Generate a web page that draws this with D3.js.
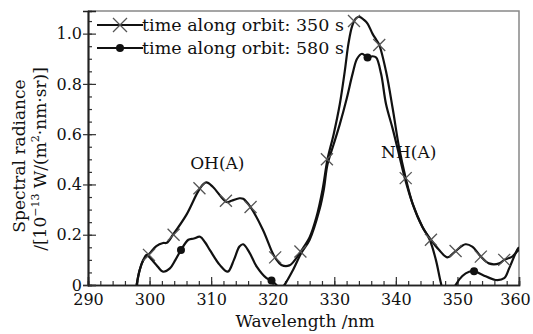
<!DOCTYPE html>
<html>
<head>
<meta charset="utf-8">
<script src="https://cdn.jsdelivr.net/npm/d3@7"></script>
<style>
  body { margin: 0; background: #fff; }
  svg text { font-family: "DejaVu Serif", serif; fill: #111; }
</style>
</head>
<body>
<div class="chart"></div>
<script>
// wavelength (nm) / spectral radiance
const wl350 = [297.9, 298.4, 299.0, 300.0, 301.1, 302.2, 302.8, 303.8, 306.0, 308.2, 309.2, 310.3,
  312.5, 313.3, 314.6, 315.2, 316.4, 318.4, 320.0, 320.5, 321.4, 322.7, 323.8, 324.6, 326.0, 327.1,
  328.1, 328.9, 329.9, 330.9, 331.7, 332.3, 332.9, 333.5, 334.1, 334.8, 335.4, 336.2, 336.8, 337.3,
  338.4, 339.5, 340.5, 341.6, 342.7, 344.3, 345.7, 347.0, 348.4, 349.7, 351.3, 352.4, 353.8, 355.1,
  356.8, 357.6, 358.9, 359.7, 360.0];
const val350 = [0, 0.06, 0.10, 0.125, 0.155, 0.167, 0.168, 0.20, 0.28, 0.385, 0.408, 0.39,
  0.33, 0.335, 0.345, 0.343, 0.31, 0.22, 0.126, 0.105, 0.08, 0.078, 0.106, 0.135, 0.19, 0.27,
  0.38, 0.50, 0.60, 0.72, 0.85, 0.96, 1.03, 1.06, 1.067, 1.055, 1.04, 1.00, 0.976, 0.955,
  0.85, 0.70, 0.55, 0.425, 0.325, 0.232, 0.18, 0.14, 0.11, 0.135, 0.162, 0.153, 0.113, 0.086,
  0.086, 0.10, 0.113, 0.133, 0.14];

const wl580 = [297.9, 298.4, 299.0, 299.5, 300.2, 301.1, 302.2, 303.3, 304.2, 305.1, 306.3, 307.2,
  308.2, 309.0, 309.8, 311.4, 312.7, 313.7, 314.6, 315.2, 316.2, 317.4, 319.0, 319.8, 320.6, 321.2,
  321.9, 323.3, 324.6, 326.0, 327.6, 328.3, 328.9, 329.9, 330.9, 332.0, 333.0, 333.7, 334.5, 335.4,
  336.2, 336.8, 337.6, 338.4, 339.5, 340.6, 341.4, 342.7, 344.3, 345.5, 346.5, 347.3, 347.8, 349.2,
  349.7, 350.8, 351.9, 352.7, 354.1, 356.2, 357.6, 358.4, 359.2, 359.7, 360.0];
const val580 = [0, 0.06, 0.10, 0.12, 0.105, 0.08, 0.053, 0.066, 0.10, 0.139, 0.18, 0.185,
  0.192, 0.17, 0.139, 0.08, 0.053, 0.10, 0.153, 0.162, 0.13, 0.073, 0.027, 0.018, 0, -0.02,
  0, 0.06, 0.125, 0.18, 0.30, 0.38, 0.48, 0.56, 0.64, 0.74, 0.843, 0.90, 0.92, 0.905,
  0.91, 0.905, 0.84, 0.72, 0.62, 0.51, 0.43, 0.325, 0.232, 0.18, 0.10, 0.01, -0.03, -0.03,
  0, 0.036, 0.053, 0.055, 0.04, 0.02, 0.027, 0.066, 0.113, 0.14, 0.15];

// marker positions
const crossWl = [299.9, 303.9, 308.1, 312.4, 316.4, 320.4, 324.5, 328.8, 333.2, 337.3, 341.6, 345.7, 349.7, 353.8, 357.6];
const crossVal = [0.12, 0.20, 0.385, 0.335, 0.31, 0.11, 0.133, 0.50, 1.05, 0.955, 0.425, 0.18, 0.135, 0.113, 0.10];
const dotWl = [305.1, 319.8, 335.4, 352.7];
const dotVal = [0.139, 0.018, 0.905, 0.055];

const seriesNames = ["time along orbit: 350 s", "time along orbit: 580 s"];
const xTicks = [290, 300, 310, 320, 330, 340, 350, 360];
const yTicks = [0, 0.2, 0.4, 0.6, 0.8, 1.0];

let margin = { top: 11, right: 14, bottom: 49, left: 88 },
  width = 533 - margin.left - margin.right,
  height = 334 - margin.top - margin.bottom;

let root = d3
  .select(".chart")
  .append("svg")
  .attr("width", 533)
  .attr("height", 334);

let svg = root
  .append("g")
  .attr("transform", "translate(" + margin.left + "," + margin.top + ")");

let x = d3.scaleLinear().domain([290, 360]).range([0, width]);
let y = d3.scaleLinear().domain([0, 1.09]).range([height, 0]);

svg.append("clipPath").attr("id", "clip")
  .append("rect").attr("width", width).attr("height", height);

// frame (top/right, grey)
svg.append("path")
  .attr("d", "M0,0H" + width + "V" + height)
  .attr("fill", "none")
  .attr("stroke", "#888")
  .attr("stroke-width", 1.5);

// ---- AXES ----
const minorX = d3.range(290, 361, 2);
const minorY = d3.range(0, 1.09, 0.05);

svg.append("g").attr("class", "axis")
  .attr("transform", "translate(0," + height + ")")
  .call(d3.axisBottom(x).tickValues(minorX).tickSize(-4).tickFormat(""));
let xAxisGroup = svg.append("g").attr("class", "axis")
  .attr("transform", "translate(0," + height + ")")
  .call(d3.axisBottom(x).tickValues(xTicks).tickSize(-8).tickPadding(9).tickFormat(d3.format("d")));
// last label squeezed in like the original
xAxisGroup.selectAll(".tick text").filter((d) => d === 360).attr("dx", -4);

svg.append("g").attr("class", "axis")
  .call(d3.axisLeft(y).tickValues(minorY).tickSize(-4).tickFormat(""));
svg.append("g").attr("class", "axis")
  .call(d3.axisLeft(y).tickValues(yTicks).tickSize(-8).tickPadding(6)
    .tickFormat((d) => (d === 0 ? "0" : d3.format(".1f")(d))));
svg.append("g").attr("class", "axis")
  .call(d3.axisLeft(y).tickValues(yTicks).tickSize(5).tickFormat(""));

svg.selectAll(".axis path.domain").attr("stroke", "#222").attr("stroke-width", 1.5);
svg.selectAll(".axis line").attr("stroke", "#333").attr("stroke-width", 1.2);
svg.selectAll(".axis text").attr("font-size", 16).attr("font-family", "DejaVu Serif").attr("fill", "#111");

// ---- CURVES ----
let line = d3.line()
  .x((d) => x(d[0]))
  .y((d) => y(d[1]))
  .curve(d3.curveCatmullRom.alpha(0.5));

let plot = svg.append("g").attr("clip-path", "url(#clip)");

plot.append("path")
  .datum(d3.zip(wl350, val350))
  .attr("d", line)
  .attr("fill", "none")
  .attr("stroke", "#111")
  .attr("stroke-width", 2.2);

plot.append("path")
  .datum(d3.zip(wl580, val580))
  .attr("d", line)
  .attr("fill", "none")
  .attr("stroke", "#111")
  .attr("stroke-width", 2.2);

function cross(g, cx, cy, r) {
  g.append("path")
    .attr("d", "M" + (cx - r) + "," + (cy - r) + "L" + (cx + r) + "," + (cy + r) +
      "M" + (cx - r) + "," + (cy + r) + "L" + (cx + r) + "," + (cy - r))
    .attr("stroke", "#555")
    .attr("stroke-width", 1.3);
}

d3.zip(crossWl, crossVal).forEach((d) => cross(svg, x(d[0]), y(d[1]), 6));

svg.selectAll(".dot")
  .data(d3.zip(dotWl, dotVal))
  .enter()
  .append("circle")
  .attr("class", "dot")
  .attr("cx", (d) => x(d[0]))
  .attr("cy", (d) => y(d[1]))
  .attr("r", 4)
  .attr("fill", "#111");

// ---- LEGEND ----
let legend = svg.append("g").attr("transform", "translate(9,14)");
seriesNames.forEach((name, i) => {
  let ly = i * 23;
  legend.append("line")
    .attr("x1", 0).attr("x2", 46)
    .attr("y1", ly).attr("y2", ly)
    .attr("stroke", "#111").attr("stroke-width", 2);
  if (i === 0) cross(legend, 23, ly, 7);
  else legend.append("circle").attr("cx", 23).attr("cy", ly).attr("r", 4).attr("fill", "#111");
  legend.append("text")
    .attr("x", 45).attr("y", ly + 6)
    .attr("font-size", 17.5)
    .text(name);
});

// annotations
svg.append("text").attr("x", x(311)).attr("y", 158).attr("text-anchor", "middle")
  .attr("font-size", 17).text("OH(A)");
svg.append("text").attr("x", x(337.6)).attr("y", 147)
  .attr("font-size", 17).text("NH(A)");

// ---- AXIS TITLES ----
root.append("text")
  .attr("x", 305).attr("y", 327)
  .attr("text-anchor", "middle")
  .attr("font-size", 17)
  .text("Wavelength /nm");

let yt = root.append("text")
  .attr("transform", "translate(25,156) rotate(-90)")
  .attr("text-anchor", "middle")
  .attr("font-size", 17);
yt.append("tspan").attr("x", 0).attr("y", 0).text("Spectral radiance");
let l2 = yt.append("tspan").attr("x", -3).attr("y", 21);
l2.append("tspan").text("/[10");
l2.append("tspan").attr("font-size", 11).attr("dy", -7).text("−13");
l2.append("tspan").attr("dy", 7).text(" W/(m");
l2.append("tspan").attr("font-size", 11).attr("dy", -7).text("2");
l2.append("tspan").attr("dy", 7).text("·nm·sr)]");
</script>
</body>
</html>
